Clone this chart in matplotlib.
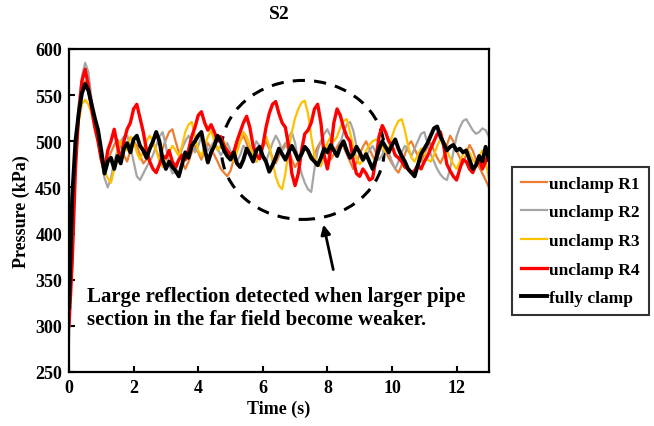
import numpy as np
import matplotlib
matplotlib.use("Agg")
import matplotlib.pyplot as plt
from matplotlib.patches import Ellipse

plt.rcParams['font.family'] = ['Liberation Serif', 'DejaVu Serif']
plt.rcParams['font.weight'] = 'bold'

# time axis, 0.1 s steps
t = np.round(np.arange(0, 13.01, 0.1), 1)

clamp = [320, 440, 500, 530, 552, 562, 555, 540, 525, 512,
         490, 465, 478, 482, 470, 484, 476, 492, 498, 488,
         502, 506, 495, 490, 482, 492, 500, 510, 500, 480,
         470, 478, 472, 468, 462, 475, 488, 482, 495, 500,
         506, 510, 492, 477, 488, 495, 506, 500, 490, 484,
         480, 488, 476, 472, 480, 492, 486, 478, 490, 494,
         484, 478, 467, 474, 482, 492, 486, 480, 488, 495,
         488, 480, 486, 494, 490, 482, 478, 474, 482, 492,
         488, 496, 490, 484, 494, 500, 490, 482, 486, 494,
         488, 480, 486, 478, 470, 480, 492, 500, 494, 488,
         496, 502, 492, 484, 478, 470, 466, 462, 474, 486,
         492, 498, 506, 514, 516, 505, 498, 490, 494, 496,
         490, 492, 488, 490, 480, 470, 474, 484, 478, 494,
         480]

r4 = [300, 370, 470, 530, 565, 578, 560, 535, 515, 500,
      480, 468, 490, 500, 513, 495, 478, 500, 513, 520,
      535, 540, 525, 510, 490, 478, 470, 466, 475, 484,
      482, 490, 478, 472, 480, 485, 480, 490, 505, 515,
      528, 532, 520, 512, 518, 510, 500, 505, 495, 490,
      485, 488, 500, 510, 520, 527, 515, 495, 485, 481,
      495, 515, 530, 540, 543, 530, 520, 515, 495, 465,
      452, 465, 490, 508, 512, 520, 535, 540, 520, 485,
      470, 490, 520, 535, 528, 515, 505, 500, 480, 465,
      462, 470, 465, 458, 460, 480, 505, 517, 510, 500,
      495, 485, 482, 478, 472, 470, 466, 468, 474, 470,
      478, 484, 492, 500, 508, 510, 495, 475, 468, 462,
      458, 470, 480, 478, 470, 466, 474, 480, 470, 478,
      488]

r2 = [285, 400, 490, 540, 570, 585, 575, 545, 520, 500,
      480, 460, 450, 460, 478, 490, 500, 505, 506, 495,
      478, 462, 458, 465, 472, 478, 485, 495, 505, 510,
      495, 475, 465, 467, 480, 492, 500, 506, 500, 488,
      495, 505, 498, 490, 495, 500, 492, 485, 490, 498,
      490, 480, 478, 485, 495, 492, 484, 490, 500, 495,
      485, 478, 488, 498, 506, 500, 490, 495, 505, 510,
      498, 480, 465, 455, 448, 445, 470, 490, 500, 508,
      513, 505, 492, 485, 498, 510, 518, 521, 512, 495,
      485, 478, 484, 490, 495, 488, 480, 485, 495, 488,
      478, 470, 478, 488, 495, 490, 484, 492, 500, 508,
      510, 498, 486, 478, 470, 464, 460, 458, 470, 488,
      505, 515, 522, 524, 518, 512, 508, 510, 514, 512,
      505]

r3 = [300, 390, 480, 520, 540, 545, 540, 530, 515, 498,
      480, 468, 460, 455, 470, 488, 500, 495, 490, 505,
      500, 488, 480, 490, 500, 506, 500, 490, 478, 472,
      480, 488, 495, 490, 484, 495, 510, 518, 521, 505,
      490, 484, 495, 505, 512, 500, 490, 496, 500, 490,
      482, 478, 488, 500, 510, 505, 495, 485, 478, 485,
      495, 505, 495, 478, 462, 452, 448, 465, 490, 510,
      525, 535, 542, 544, 530, 505, 485, 474, 473, 485,
      498, 505, 500, 505, 515, 522, 524, 510, 495, 482,
      475, 480, 490, 496, 500, 502, 500, 495, 488, 492,
      505, 515, 522, 524, 512, 495, 482, 478, 485, 492,
      488, 480, 478, 485, 495, 502, 500, 490, 482, 475,
      470, 478, 486, 492, 488, 480, 476, 484, 490, 478,
      460]

r1 = [300, 410, 490, 535, 560, 565, 555, 535, 518, 500,
      482, 470, 478, 488, 496, 502, 495, 485, 478, 490,
      500, 495, 485, 476, 480, 490, 498, 490, 482, 492,
      502, 510, 513, 500, 488, 478, 470, 478, 488, 495,
      488, 480, 490, 498, 492, 485, 478, 470, 466, 462,
      468, 480, 492, 500, 506, 498, 488, 480, 478, 486,
      494, 500, 492, 482, 476, 484, 492, 498, 490, 480,
      472, 478, 488, 494, 488, 480, 486, 494, 500, 495,
      488, 480, 486, 494, 500, 494, 486, 478, 470, 476,
      486, 494, 500, 492, 484, 478, 488, 496, 490, 482,
      476, 470, 466, 474, 486, 496, 500, 492, 484, 478,
      486, 494, 498, 490, 482, 476, 484, 496, 506, 500,
      490, 482, 476, 486, 496, 490, 480, 472, 465, 458,
      450]

labels = ['unclamp R1', 'unclamp R2', 'unclamp R3', 'unclamp R4', 'fully clamp']
colors = ['#ED7D31', '#A5A5A5', '#FFC000', '#FF0000', '#000000']
widths = [1.6, 1.6, 1.6, 2.4, 2.8]
series = [r1, r2, r3, r4, clamp]

fig = plt.figure(figsize=(6.54, 4.27), dpi=100)
ax = fig.add_axes([0.1055, 0.1265, 0.642, 0.7565])

lines = []
for y, c, w, lab in zip(series, colors, widths, labels):
    ln, = ax.plot(t, y, color=c, lw=w, label=lab)
    lines.append(ln)

ax.set_xlim(0, 13)
ax.set_ylim(250, 600)
ax.set_xticks(range(0, 13, 2))
ax.set_yticks(range(250, 601, 50))
ax.tick_params(direction='in', length=4, width=1.5, labelsize=13, pad=5)
for s in ax.spines.values():
    s.set_linewidth(1.6)
ax.set_xlabel('Time (s)', fontsize=13, fontweight='bold', labelpad=3)
ax.set_ylabel('Pressure (kPa)', fontsize=13, fontweight='bold', labelpad=4)
ax.set_title('S2', fontsize=14, fontweight='bold', pad=22)

# dashed circle around the reflection zone
ax.add_patch(Ellipse((7.24, 490.6), 5.04, 150.6, fill=False, ec='black',
                     lw=2.2, ls=(0, (4, 3))))
ax.annotate('', xy=(7.86, 412.6), xytext=(8.2, 358),
            arrowprops=dict(arrowstyle='-|>', color='black', lw=2,
                            mutation_scale=14))
ax.text(0.56, 320, 'Large reflection detected when larger pipe\nsection in the far field become weaker.',
        fontsize=15, fontweight='bold', va='center', ha='left', linespacing=1.22)

leg = fig.legend(handles=lines, loc='upper left', bbox_to_anchor=(0.783, 0.607),
                 fontsize=12.5, frameon=True, fancybox=False, edgecolor='black',
                 handlelength=1.5, handletextpad=0.15, labelspacing=0.72,
                 borderpad=0.5, borderaxespad=0)
leg.get_frame().set_linewidth(1.5)

fig.savefig('out.png', dpi=100)
